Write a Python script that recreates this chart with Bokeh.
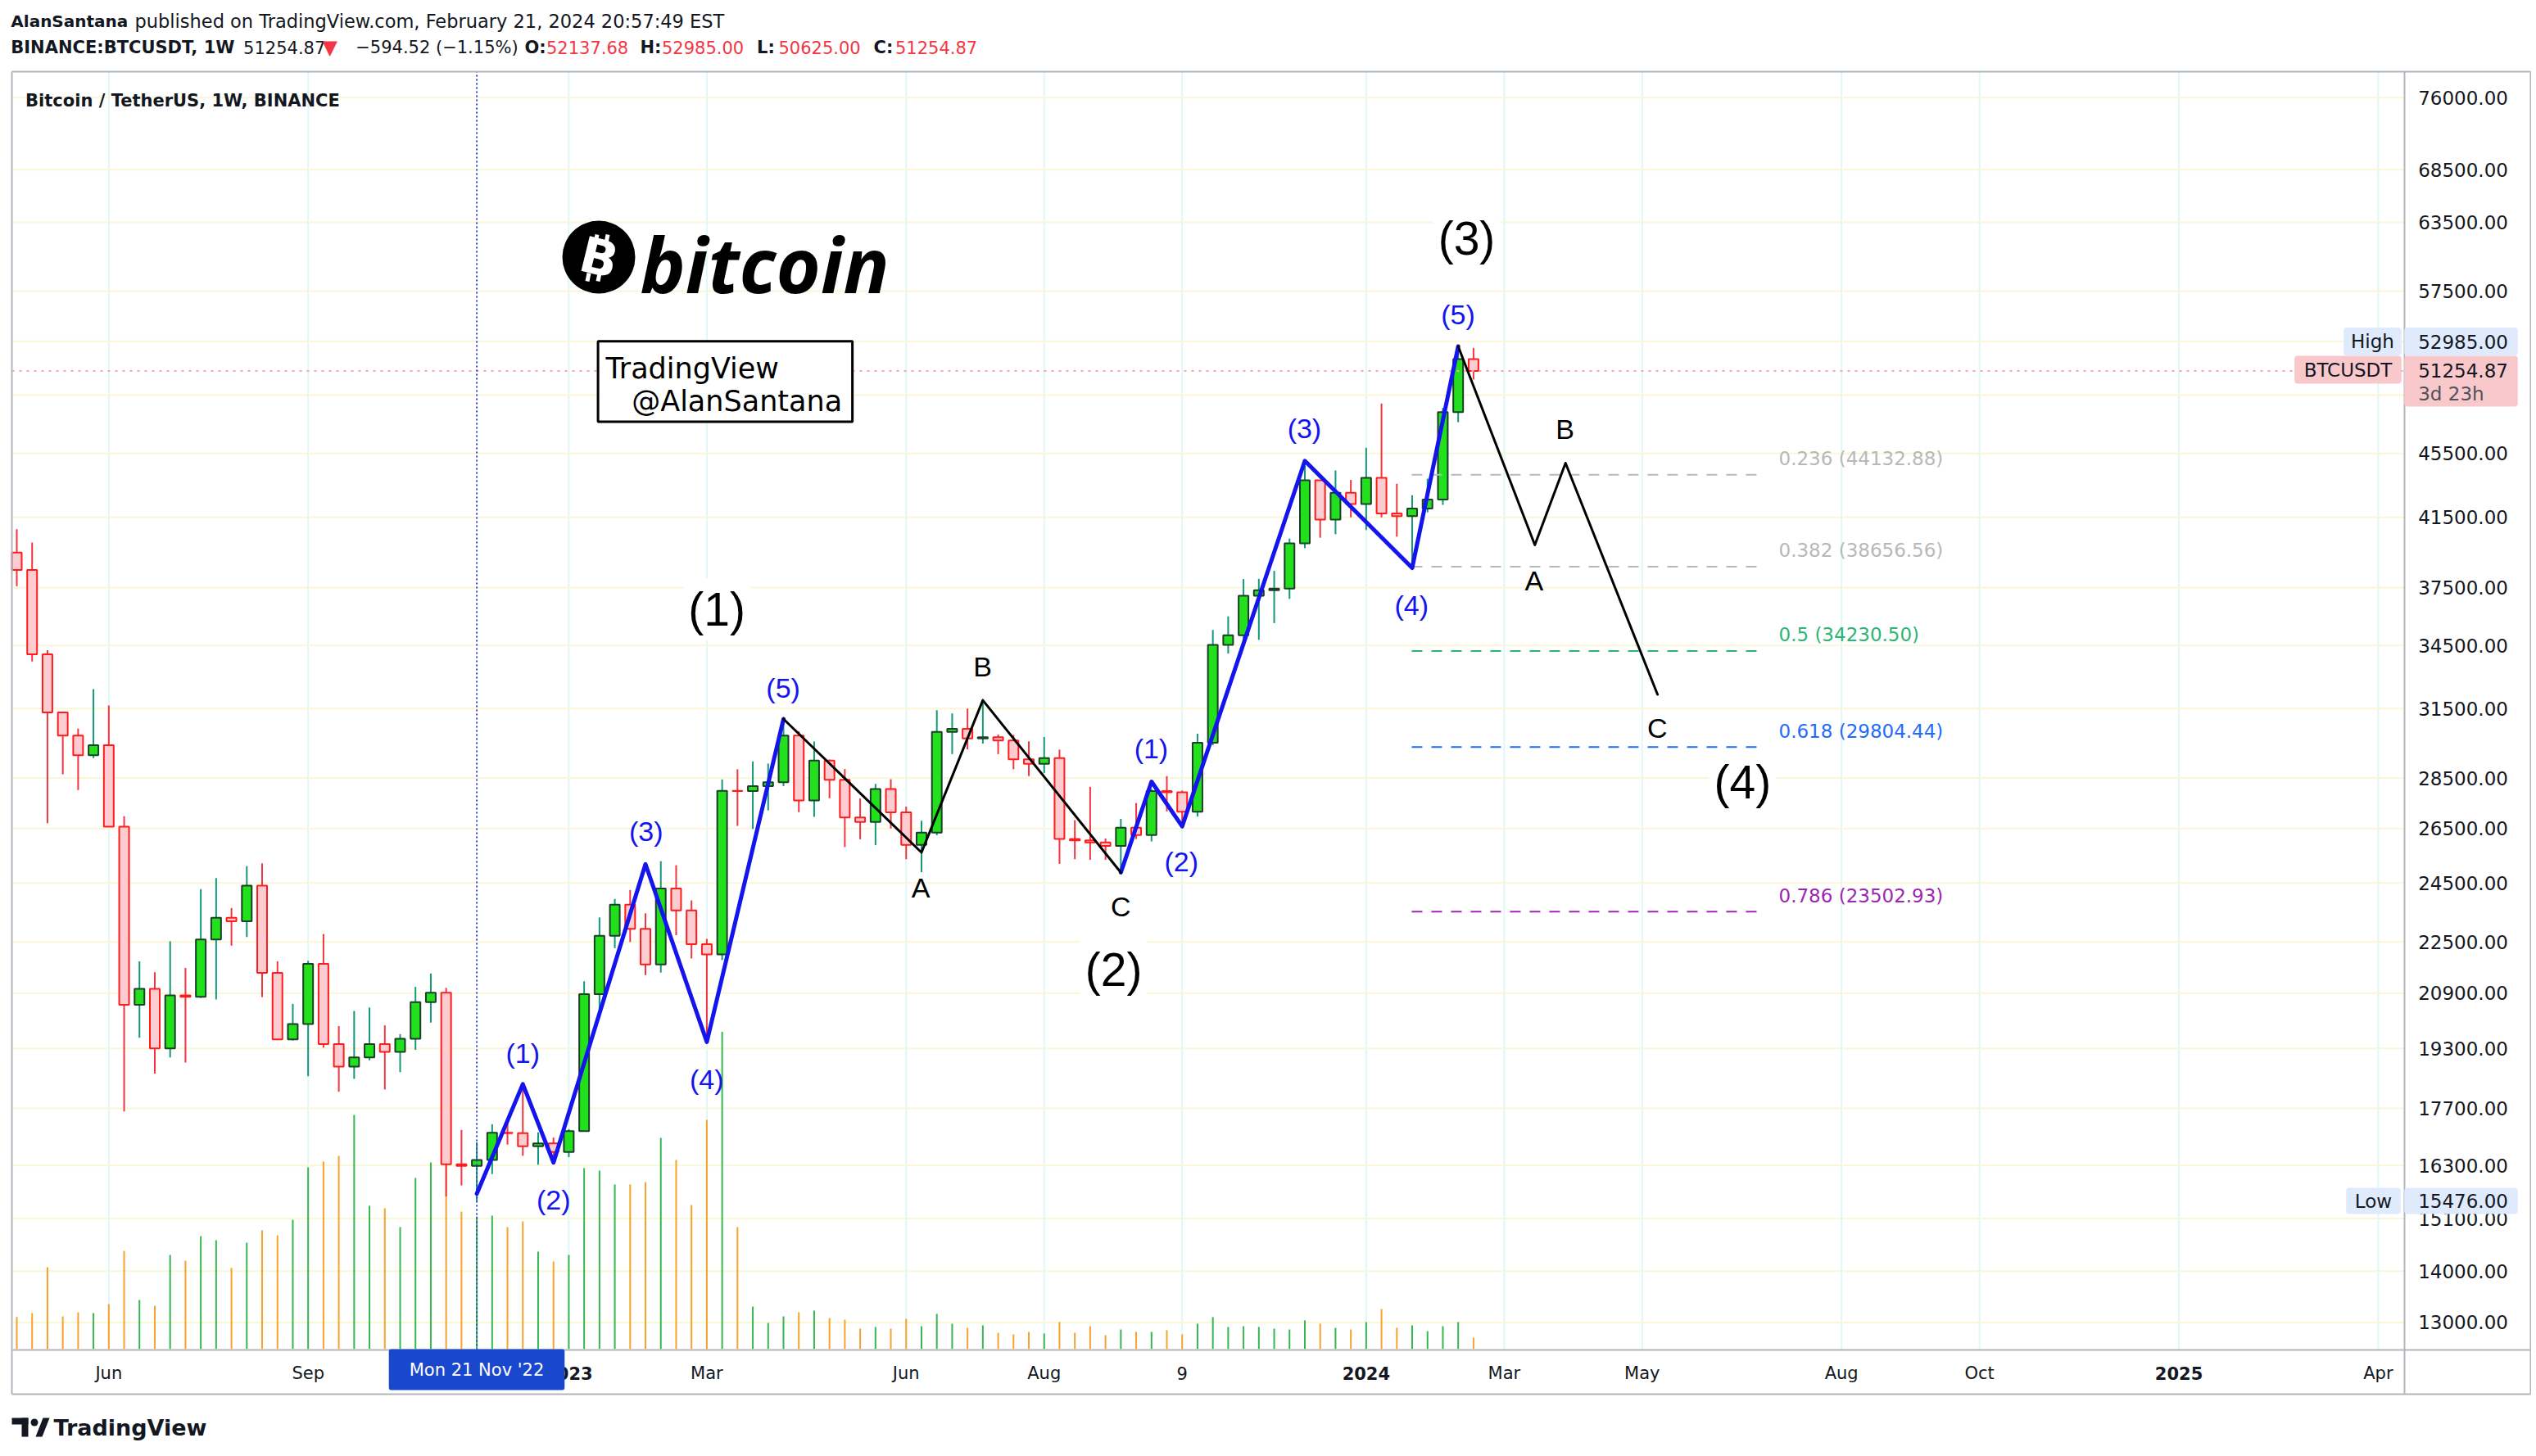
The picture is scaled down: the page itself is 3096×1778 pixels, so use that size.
import math
from bokeh.plotting import figure
from bokeh.models import (Range1d, LinearScale, LogScale, Label, ColumnDataSource)
from bokeh.core.properties import value
from bokeh.embed import file_html
from bokeh.resources import INLINE

# ---------------- data: weekly BINANCE:BTCUSDT, week 0 = Mon 25 Apr 2022 ----------------
weeks = list(range(96))
opens = [39450, 38470, 34060, 31330, 30300, 29450, 29880, 26570, 20550, 21030,
         19300, 20830, 20790, 22580, 23300, 23180, 24400, 21520, 19550, 19990,
         21800, 19420, 18800, 19050, 19420, 19200, 19570, 20630, 20910, 16330,
         16290, 16430, 17090, 17080, 16760, 16830, 16620, 17130, 20870, 22700,
         23740, 22930, 21780, 24300, 23550, 22430, 22100, 27980, 27970, 28170,
         28330, 30300, 27590, 29230, 28430, 26920, 26750, 28050, 27120, 25880,
         26340, 30460, 30590, 30170, 30230, 30080, 29280, 29090, 29330, 26100,
         26050, 25970, 25840, 26530, 26250, 27970, 27920, 27150, 29990, 34530,
         35010, 37060, 37360, 37450, 39970, 43780, 41370, 43000, 42300, 43930,
         41730, 41580, 42030, 42580, 48300, 52137.68]
highs = [40800, 40020, 34270, 31330, 30600, 32400, 31640, 26970, 21880, 21540,
         22520, 21670, 24280, 24670, 23630, 25100, 25200, 21880, 20580, 21900,
         22760, 19930, 20370, 20470, 19950, 19700, 21090, 21500, 21060, 17160,
         16860, 17300, 17430, 18370, 17100, 16970, 17180, 21260, 23310, 23940,
         24250, 23450, 25280, 25130, 23890, 22600, 28440, 28860, 29190, 29100,
         31000, 30490, 30040, 29270, 28870, 27670, 28260, 28450, 27350, 26800,
         31430, 31280, 31500, 31800, 30340, 30330, 30050, 30240, 29690, 26820,
         28140, 26120, 26870, 27490, 28050, 28580, 27990, 30380, 35280, 35980,
         37970, 37980, 38420, 40250, 44700, 43790, 44400, 43800, 45880, 48900,
         43560, 42840, 43880, 48590, 52820, 52985.00]
lows = [37580, 33710, 26700, 28650, 28010, 29330, 26560, 17620, 19600, 18610,
        19050, 18910, 20750, 20710, 22380, 22660, 20780, 19530, 19520, 18540,
        19320, 18130, 18470, 18970, 18190, 18650, 19260, 20030, 15590, 15840,
        15476, 16100, 16800, 16530, 16320, 16330, 16500, 17120, 20400, 22300,
        22500, 21450, 21530, 22720, 21970, 19600, 21920, 26600, 26480, 27200,
        28170, 27130, 26950, 27680, 25800, 26090, 25870, 26500, 25350, 24880,
        26240, 29500, 29700, 29950, 29500, 28860, 28580, 28700, 25180, 25350,
        25330, 25330, 24900, 26100, 26010, 27160, 26540, 26960, 29880, 34100,
        34520, 34780, 35630, 36900, 39700, 40300, 40500, 41500, 40750, 41500,
        40360, 38560, 41800, 42250, 47600, 50625.00]
closes = [38470, 34060, 31330, 30300, 29450, 29880, 26570, 20550, 21030, 19300,
          20830, 20790, 22580, 23300, 23180, 24400, 21520, 19550, 19990, 21800,
          19420, 18800, 19050, 19420, 19200, 19570, 20630, 20910, 16330, 16290,
          16430, 17090, 17080, 16760, 16830, 16620, 17130, 20870, 22700, 23740,
          22930, 21780, 24300, 23550, 22430, 22100, 27980, 27970, 28170, 28330,
          30300, 27590, 29230, 28430, 26920, 26750, 28050, 27120, 25880, 26340,
          30460, 30590, 30170, 30230, 30080, 29280, 29090, 29330, 26100, 26050,
          25970, 25840, 26530, 26250, 27970, 27920, 27150, 29990, 34530, 35010,
          37060, 37360, 37450, 39970, 43780, 41370, 43000, 42300, 43930, 41730,
          41580, 42030, 42580, 48300, 52140, 51254.87]
volume_kbtc = [253, 284, 648, 258, 291, 284, 356, 778, 388, 343,
               746, 700, 895, 863, 642, 843, 941, 902, 1025, 1441,
               1487, 1532, 1857, 1136, 1116, 967, 1357, 1480, 2200, 1090,
               1051, 1058, 967, 1012, 772, 694, 746, 1435, 1415, 1305,
               1305, 1324, 1675, 1500, 1142, 1818, 2516, 967, 336, 206,
               258, 291, 304, 245, 232, 161, 174, 161, 239, 180,
               278, 200, 167, 187, 128, 115, 135, 122, 213, 128,
               180, 109, 154, 135, 135, 148, 115, 200, 252, 174,
               180, 174, 161, 154, 226, 200, 167, 154, 213, 317,
               167, 187, 141, 180, 213, 89]

# Elliott wave drawings (week index, price)
wave1_x = [30, 33, 35, 41, 45, 50]
wave1_y = [15650, 18330, 16370, 25170, 19480, 31030]
corr1_x = [50, 59, 63, 72]
corr1_y = [31030, 25600, 31880, 24870]
wave2_x = [72, 74, 76, 84, 91, 94]
wave2_y = [24870, 28350, 26580, 45020, 38580, 53100]
proj_x = [94, 99, 101, 107]
proj_y = [53100, 39880, 44880, 32150]

blue_labels = [("(1)", 33.0, 19160), ("(2)", 35.0, 15510), ("(3)", 41.04, 26390),
               ("(4)", 44.99, 18460), ("(5)", 49.98, 32470), ("(1)", 73.98, 29740),
               ("(2)", 75.95, 25270), ("(3)", 83.97, 47190), ("(4)", 90.96, 36550),
               ("(5)", 93.99, 55600)]
abc_labels = [("A", 58.95, 24340), ("B", 62.98, 33480), ("C", 72.0, 23680),
              ("A", 98.95, 37870), ("B", 100.97, 47130), ("C", 106.98, 30640)]
big_labels = [("(1)", 45.65, 36330), ("(2)", 71.53, 21630), ("(3)", 94.55, 62090),
              ("(4)", 112.55, 28350)]

fib_ratios = [0.236, 0.382, 0.5, 0.618, 0.786]
fib_prices = [44132.88, 38656.56, 34230.50, 29804.44, 23502.93]
fib_x0, fib_x1 = 90.97, 113.84

price_ticks = [13000, 14000, 15100, 16300, 17700, 19300, 20900, 22500, 24500, 26500,
               28500, 31500, 34500, 37500, 41500, 45500, 49500, 53500, 57500, 63500,
               68500, 76000]
hidden_price_ticks = [49500, 53500]
time_ticks = [6, 19, 36, 45, 58, 67, 76, 88, 97, 106, 119, 128, 141, 154]
time_labels = ["Jun", "Sep", "2023", "Mar", "Jun", "Aug", "9", "2024", "Mar", "May",
               "Aug", "Oct", "2025", "Apr"]

last_close, last_high, last_low = 51254.87, 52985.00, 15476.00

# ---------------- styles ----------------
UI = "DejaVu Sans"
WAVE = "Liberation Sans"
INK = "#131722"
RED = "#f23645"
BLUE = "#1414ee"
GRID_V = "#e0f7f9"
GRID_H = "#fbf6d6"
BORDER = "#b2b5be"
UP_FILL, UP_LINE, UP_WICK = "#22e01c", "#1b3d2a", "#12997a"
DN_FILL, DN_LINE, DN_WICK = "#fcccd0", "#ff1c1c", "#ef3642"
VOL_UP, VOL_DN = "#34b84f", "#f5a32c"
FIB_COLORS = ["#b8b8b8", "#b8b8b8", "#2bb673", "#1f6bff", "#9c27b0"]

W, H = 3090, 1770
FRAME_L, FRAME_T, FRAME_R, FRAME_B = 14, 87, 2935, 1648   # price pane
OUTER_R, OUTER_B = 3089, 1702                              # price scale / time scale edges

# reference-pixel helpers (canvas pixel -> data coordinates)
BAR0_PX, BAR_PX = 20.0, 18.72
LN_REF, PY_REF, PX_PER_LN = math.log(76000.0), 118.8, 847.0
def X(px): return (px - BAR0_PX) / BAR_PX
def Y(py): return math.exp(LN_REF - (py - PY_REF) / PX_PER_LN)
def PY(price): return PY_REF + (LN_REF - math.log(price)) * PX_PER_LN

p = figure(width=W, height=H, x_range=Range1d(X(0), X(W)), y_range=Range1d(Y(H), Y(0)),
           x_axis_type=None, y_axis_type=None, toolbar_location=None,
           output_backend="svg", title=None,
           min_border_left=0, min_border_right=0, min_border_top=0, min_border_bottom=0,
           background_fill_color="white", border_fill_color="white")
p.y_scale = LogScale()
p.outline_line_color = None
VOL_PX = 6.5  # thousand BTC per pixel
VOL_BASE = 1646.7
p.extra_y_ranges = {"vol": Range1d(-(H - VOL_BASE) * VOL_PX, VOL_BASE * VOL_PX)}
p.extra_y_scales = {"vol": LinearScale()}

# ---- grid (at time / price ticks, inside the price pane) ----
p.segment(x0=time_ticks, y0=Y(FRAME_B), x1=time_ticks, y1=Y(FRAME_T),
          line_color=GRID_V, line_width=2)
p.segment(x0=X(FRAME_L), y0=price_ticks, x1=X(FRAME_R), y1=price_ticks,
          line_color=GRID_H, line_width=2)

up = [c >= o for o, c in zip(opens, closes)]
src = ColumnDataSource(dict(
    x=weeks, h=highs, l=lows,
    top=[max(o, c) for o, c in zip(opens, closes)],
    bottom=[min(o, c) for o, c in zip(opens, closes)],
    fill=[UP_FILL if u else DN_FILL for u in up],
    line=[UP_LINE if u else DN_LINE for u in up],
    wick=[UP_WICK if u else DN_WICK for u in up],
    vol=volume_kbtc,
    vcol=[VOL_UP if u else VOL_DN for u in up],
))

# volume (overlay, own linear scale)
p.segment(x0="x", y0=0, x1="x", y1="vol", line_color="vcol", line_width=2,
          y_range_name="vol", source=src)
# candles
p.segment(x0="x", y0="l", x1="x", y1="h", line_color="wick", line_width=2, source=src)
p.vbar(x="x", width=0.64, top="top", bottom="bottom", fill_color="fill",
       line_color="line", line_width=2, source=src)

# last price line and crosshair
p.segment(x0=X(FRAME_L), y0=last_close, x1=X(FRAME_R), y1=last_close,
          line_color="#f6a6aa", line_width=2, line_dash="3 6")
p.segment(x0=30, y0=Y(FRAME_B), x1=30, y1=Y(FRAME_T),
          line_color="#2845cc", line_width=2, line_dash="2 3")

# fib retracement levels
p.segment(x0=[fib_x0] * len(fib_prices), y0=fib_prices, x1=[fib_x1] * len(fib_prices),
          y1=fib_prices, line_color=FIB_COLORS, line_width=2, line_dash="13 11")

# wave lines
p.line(wave1_x, wave1_y, line_color=BLUE, line_width=5, line_join="round", line_cap="round")
p.line(wave2_x, wave2_y, line_color=BLUE, line_width=5, line_join="round", line_cap="round")
p.line(corr1_x, corr1_y, line_color="black", line_width=3, line_join="round", line_cap="round")
p.line(proj_x, proj_y, line_color="black", line_width=3, line_join="round", line_cap="round")

# bitcoin logo disc with the two stroke pairs of the currency sign
p.scatter(x=[X(730.5)], y=[Y(313.5)], size=89, marker="circle", fill_color="black",
          line_color=None)
sx0 = [726.5, 739.5, 718.5, 731.5]
sy0 = [296.0, 296.0, 333.0, 333.0]
sx1 = [728.5, 741.5, 716.5, 729.5]
sy1 = [286.0, 286.0, 343.0, 343.0]
p.segment(x0=[X(v) for v in sx0], y0=[Y(v) for v in sy0],
          x1=[X(v) for v in sx1], y1=[Y(v) for v in sy1],
          line_color="white", line_width=5)

# TradingView footer mark
p.quad(left=[X(14), X(26)], right=[X(34), X(34)], top=[Y(1731), Y(1731)],
       bottom=[Y(1739), Y(1754)], fill_color=INK, line_color=None)
p.scatter(x=[X(41.5)], y=[Y(1736.5)], size=9, marker="circle", fill_color=INK,
          line_color=None)
p.patch(x=[X(43), X(51), X(60), X(52)], y=[Y(1754), Y(1754), Y(1731), Y(1731)],
        fill_color=INK, line_color=None)

# ---- pane / scale borders ----
bx0 = [FRAME_L, FRAME_L, FRAME_L, OUTER_R, FRAME_R, FRAME_L]
by0 = [FRAME_T, OUTER_B, FRAME_T, FRAME_T, FRAME_T, FRAME_B]
bx1 = [OUTER_R, OUTER_R, FRAME_L, OUTER_R, FRAME_R, OUTER_R]
by1 = [FRAME_T, OUTER_B, OUTER_B, OUTER_B, OUTER_B, FRAME_B]
p.segment(x0=[X(v) for v in bx0], y0=[Y(v) for v in by0],
          x1=[X(v) for v in bx1], y1=[Y(v) for v in by1],
          line_color=BORDER, line_width=2)

# ---- price scale labels ----
shown = [t for t in price_ticks if t not in hidden_price_ticks]
p.text(x=X(2951.7), y=shown, text=[f"{t:.2f}" for t in shown],
       text_font=value(UI), text_font_size="23px", text_color=INK,
       text_align="left", text_baseline="middle")

# ---- time scale labels ----
is_year = [len(s) == 4 and s.isdigit() for s in time_labels]
p.text(x=[t for t, yr in zip(time_ticks, is_year) if not yr], y=Y(1676),
       text=[s for s, yr in zip(time_labels, is_year) if not yr],
       text_font=value(UI), text_font_size="21px", text_color=INK,
       text_align="center", text_baseline="middle")
p.text(x=[t for t, yr in zip(time_ticks, is_year) if yr], y=Y(1676),
       text=[s for s, yr in zip(time_labels, is_year) if yr],
       text_font=value(UI), text_font_size="21px", text_font_style="bold",
       text_color=INK, text_align="center", text_baseline="middle")


def lab(x, y, text, size, color=INK, font=UI, style="normal", align="left",
        baseline="middle", **kw):
    p.add_layout(Label(x=x, y=y, text=text, text_font=font, text_font_size=f"{size}px",
                       text_font_style=style, text_color=color, text_align=align,
                       text_baseline=baseline, **kw))


def plab(px, py, text, size, **kw):
    lab(X(px), Y(py), text, size, **kw)


def box(bx, by, w, h, fill=None, line=None, lw=2, radius=0):
    p.add_layout(Label(x=X(bx), y=Y(by), text=" ", text_font_size="2px",
                       text_color=fill or "white",
                       text_align="center", text_baseline="middle",
                       background_fill_color=fill, border_line_color=line,
                       border_line_width=lw, border_radius=radius,
                       padding=dict(left=int(w / 2), right=int(w / 2),
                                    top=int(h / 2), bottom=int(h / 2))))


# wave labels
for t, x, y in blue_labels:
    lab(x, y, t, 34, color=BLUE, font=WAVE, align="center")
for t, x, y in abc_labels:
    lab(x, y, t, 34, color="black", font=WAVE, align="center")
for t, x, y in big_labels:
    lab(x, y, t, 57, color="black", font=WAVE, align="center",
        background_fill_color="white", padding=6)

# fib labels
for r, v, col in zip(fib_ratios, fib_prices, FIB_COLORS):
    lab(X(2171), Y(PY(v) - 19.5), f"{r} ({v:.2f})", 23, color=col)

# logo
plab(731, 314, "B", 60, color="white", style="bold", align="center", angle=-0.24)
plab(781, 321, "bitcoin", 93, color="black", font="Open Sans", style="bold italic")
box((729 + 1040.7) / 2, (416.7 + 514) / 2, 311, 97, fill="white", line="black", lw=3)
plab(739, 449.5, "TradingView", 35, color="black")
plab(770.7, 489.5, "@AlanSantana", 35, color="black")

# pane title and header
plab(30.6, 122, "Bitcoin / TetherUS, 1W, BINANCE", 21, style="bold")
plab(12.8, 25, "AlanSantana", 20, style="bold")
plab(164, 25, "published on TradingView.com, February 21, 2024 20:57:49 EST", 22.5)
plab(12.8, 57, "BINANCE:BTCUSDT, 1W", 21, style="bold")
plab(296.6, 57, f"{last_close:.2f}", 21)
plab(393, 57, "▼", 24, color=RED)
plab(433.7, 57, "−594.52 (−1.15%)", 21)
for lx, key, val in [(640, "O:", 52137.68), (781, "H:", 52985.00),
                     (923.5, "L:", 50625.00), (1066, "C:", 51254.87)]:
    plab(lx, 57, key, 21, style="bold")
    plab(lx + 26.5, 57, f"{val:.2f}", 21, color=RED)

# right price-scale badges
box(2896, 416.7, 71, 33, fill="#dfeafc", radius=4)
plab(2896, 416.7, "High", 23, align="center")
box(3004, 416.7, 138, 33, fill="#dfeafc", radius=4)
plab(2951.7, 416.7, f"{last_high:.2f}", 23)
box(2866, 451, 131, 32, fill="#f9c8cb", radius=4)
plab(2866, 451, "BTCUSDT", 23, align="center")
box(3004, 465, 138, 60, fill="#f9c8cb", radius=4)
plab(2951.7, 451.7, f"{last_close:.2f}", 23)
plab(2951.7, 480, "3d 23h", 23, color="#50535e")
box(2897, 1466, 66, 30, fill="#dfeafc", radius=4)
plab(2897, 1466, "Low", 23, align="center")
box(3004, 1466, 138, 30, fill="#dfeafc", radius=4)
plab(2951.7, 1466, f"{last_low:.2f}", 23)

# crosshair date badge on the time scale
box(581.5, 1672, 215, 48, fill="#1a48cc", radius=3)
plab(581.5, 1672, "Mon 21 Nov '22", 21, color="white", align="center")

# footer
plab(65, 1743, "TradingView", 27, style="bold")

open("out.html", "w").write(file_html(p, INLINE))
